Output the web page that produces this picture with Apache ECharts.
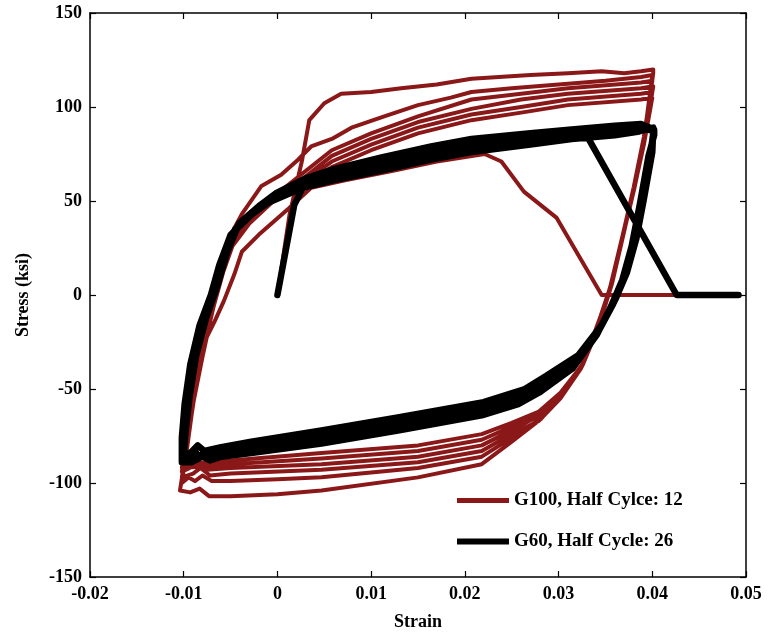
<!DOCTYPE html>
<html>
<head>
<meta charset="utf-8">
<script src="https://cdn.jsdelivr.net/npm/echarts@6/dist/echarts.min.js"></script>
<style>html,body{margin:0;padding:0;background:#fff}#c{width:768px;height:636px}</style>
</head>
<body>
<div id="c"></div>
<script>
// Axis ticks
const xTicks = [-0.02, -0.01, 0, 0.01, 0.02, 0.03, 0.04, 0.05];
const yTicks = [-150, -100, -50, 0, 50, 100, 150];
const seriesNames = ['G100, Half Cylce: 12', 'G60, Half Cycle: 26'];

// ---- G100 (red) half cycles: [strain, stress ksi]
const g100_U0 = [[0,0],[0.0013,43],[0.0026,71],[0.0034,93],[0.005,102],[0.0068,107],[0.010,108],[0.0132,110],[0.017,112],[0.0207,115],[0.027,117],[0.031,118],[0.0346,119],[0.037,118],[0.0388,119],[0.0401,120]];
const g100_L1 = [[0.0401,118],[0.0393,88],[0.0382,60],[0.0371,36],[0.0357,6],[0.0347,-10],[0.0336,-25],[0.0326,-37],[0.0304,-53],[0.0281,-66],[0.025,-78],[0.0218,-90],[0.015,-97],[0.0047,-104],[0,-106],[-0.005,-107],[-0.0073,-107],[-0.0083,-103],[-0.0093,-105],[-0.0104,-104]];
const g100_U1 = [[-0.0104,-104],[-0.0098,-85],[-0.0093,-62],[-0.0083,-36],[-0.0072,-12],[-0.0062,10],[-0.0052,30],[-0.0038,43],[-0.0017,58],[0.0004,64],[0.0022,72],[0.0036,79],[0.0058,83],[0.0079,89],[0.0114,95],[0.015,101],[0.0185,105],[0.0207,108],[0.025,110],[0.030,112],[0.035,114],[0.0388,116],[0.0400,117]];
const g100_L2 = [[0.0400,116],[0.0392,86],[0.0381,59],[0.037,35],[0.0356,5],[0.0346,-11],[0.0335,-26],[0.0325,-38],[0.0303,-54],[0.028,-66],[0.025,-76],[0.0218,-86],[0.015,-92],[0.0047,-97],[0,-98],[-0.005,-99],[-0.007,-99],[-0.008,-96],[-0.0088,-99],[-0.0095,-97],[-0.0102,-100]];
const g100_U2 = [[-0.0102,-100],[-0.0096,-80],[-0.009,-58],[-0.008,-33],[-0.007,-10],[-0.006,10],[-0.005,26],[-0.0035,38],[-0.001,50],[0.002,62],[0.0058,77],[0.01,86],[0.015,95],[0.0207,104],[0.026,107],[0.031,110],[0.0388,113],[0.0400,114]];
const g100_L3 = [[0.0400,113],[0.0391,84],[0.038,57],[0.0369,33],[0.0355,4],[0.0345,-12],[0.0334,-27],[0.0324,-39],[0.0302,-55],[0.0279,-67],[0.025,-74],[0.0218,-83],[0.015,-89],[0.0047,-93],[-0.005,-95],[-0.0072,-96],[-0.0082,-92],[-0.009,-95],[-0.0102,-97]];
const g100_U3 = [[-0.0102,-97],[-0.0095,-75],[-0.0088,-52],[-0.0078,-27],[-0.0068,-6],[-0.0058,12],[-0.0048,26],[-0.003,38],[0,52],[0.003,63],[0.0058,74],[0.01,83],[0.015,92],[0.0207,99],[0.026,104],[0.031,107],[0.0388,110],[0.0401,111]];
const g100_L4 = [[0.0401,110],[0.0392,83],[0.0381,57],[0.037,34],[0.0356,5],[0.0346,-10],[0.0335,-25],[0.0325,-37],[0.0303,-52],[0.028,-64],[0.025,-72],[0.0218,-80],[0.015,-86],[0.0047,-90],[-0.005,-92],[-0.0075,-93],[-0.0085,-90],[-0.0102,-94]];
const g100_U4 = [[-0.0102,-94],[-0.0096,-74],[-0.0089,-50],[-0.0079,-25],[-0.0069,-4],[-0.0059,13],[-0.0049,27],[-0.0032,38],[-0.0005,50],[0.003,61],[0.0058,71],[0.01,80],[0.015,89],[0.0207,96],[0.026,100],[0.031,104],[0.0388,107],[0.0400,108]];
const g100_L5 = [[0.0400,107],[0.0391,82],[0.038,56],[0.0369,33],[0.0355,4],[0.0345,-11],[0.0334,-26],[0.0324,-38],[0.0302,-53],[0.0279,-64],[0.025,-70],[0.0218,-77],[0.015,-83],[0.0047,-87],[-0.005,-90],[-0.0102,-92]];
const g100_U5 = [[-0.0102,-92],[-0.0096,-72],[-0.0089,-49],[-0.0079,-24],[-0.0069,-3],[-0.0059,14],[-0.0049,28],[-0.0033,38],[-0.0008,49],[0.003,59],[0.0058,68],[0.01,77],[0.015,86],[0.0207,93],[0.026,97],[0.031,101],[0.0388,104],[0.0400,105]];
const g100_L6 = [[0.0400,104],[0.0391,80],[0.038,55],[0.0369,32],[0.0355,3],[0.0345,-12],[0.0334,-27],[0.0324,-38],[0.0302,-52],[0.0279,-62],[0.025,-68],[0.0218,-74],[0.015,-80],[0.0047,-84],[-0.005,-88],[-0.0102,-90]];
const g100_U6 = [[-0.0102,-90],[-0.0096,-72],[-0.0088,-48],[-0.0078,-25],[-0.0067,-14],[-0.0057,-3],[-0.0046,11],[-0.0038,23],[-0.002,32],[0.0012,46],[0.0036,57],[0.0072,61],[0.0122,66],[0.017,71],[0.0221,75],[0.0239,71],[0.0263,55],[0.0298,41],[0.0346,0],[0.0424,0]];

// ---- G60 (black) half cycles
const g60_U0 = [[0,0],[0.0018,48],[0.0029,59],[0.006,64],[0.011,70],[0.0164,76],[0.0207,80],[0.027,84],[0.0314,86],[0.036,88],[0.0388,89],[0.0401,88]];
const g60_L1 = [[0.0401,86],[0.0398,75],[0.0389,50],[0.0381,28],[0.0371,10],[0.0359,-4],[0.0344,-18],[0.0318,-35],[0.0283,-47],[0.026,-54],[0.0218,-60],[0.013,-68],[0.0047,-75],[-0.0028,-81],[-0.0055,-83],[-0.0068,-86],[-0.0075,-83],[-0.0084,-86],[-0.0088,-83],[-0.0095,-87],[-0.0101,-87]];
const g60_U1 = [[-0.0101,-86],[-0.0100,-74],[-0.0096,-56],[-0.009,-35],[-0.0079,-14],[-0.0067,2],[-0.0058,19],[-0.0045,35],[-0.0022,46],[-0.0006,52],[0.0029,60],[0.006,64],[0.011,69],[0.0164,75],[0.0207,79],[0.027,83],[0.0314,85],[0.036,87],[0.0388,89],[0.0402,87]];
const g60_L2 = [[0.0402,85],[0.0396,74],[0.0387,49],[0.0378,26],[0.0368,8],[0.0356,-6],[0.0341,-21],[0.0315,-39],[0.0279,-52],[0.0257,-58],[0.0218,-64],[0.013,-72],[0.0047,-79],[-0.0028,-84],[-0.006,-86],[-0.0072,-88],[-0.008,-86],[-0.0092,-89],[-0.0102,-89]];
const g60_U2 = [[-0.0102,-88],[-0.0102,-76],[-0.0099,-58],[-0.0093,-37],[-0.0083,-16],[-0.0071,0],[-0.0062,16],[-0.005,32],[-0.0027,43],[-0.001,49],[0.0027,57],[0.006,61],[0.011,66],[0.0164,72],[0.0207,76],[0.027,80],[0.0314,83],[0.036,85],[0.0386,87],[0.0401,89]];
const g60_L3 = [[0.0401,87],[0.04,76],[0.0391,51],[0.0383,30],[0.0373,12],[0.0361,-2],[0.0346,-16],[0.0321,-32],[0.0287,-43],[0.0264,-50],[0.022,-57],[0.013,-65],[0.0047,-72],[-0.0028,-78],[-0.006,-81],[-0.0078,-83],[-0.0085,-80],[-0.0093,-84],[-0.0100,-85]];
const g60_U3 = [[-0.0100,-84],[-0.0098,-73],[-0.0094,-55],[-0.0087,-33],[-0.0076,-12],[-0.0064,5],[-0.0054,22],[-0.0041,38],[-0.0018,48],[-0.0002,54],[0.003,62],[0.006,67],[0.011,73],[0.0164,79],[0.0207,83],[0.027,86],[0.0314,88],[0.036,90],[0.0388,91],[0.0402,88]];
const g60_L4 = [[0.0402,86],[0.0397,75],[0.0388,50],[0.038,28],[0.037,9],[0.0358,-5],[0.0343,-19],[0.0317,-36],[0.0282,-48],[0.026,-55],[0.0218,-61],[0.013,-69],[0.0047,-76],[-0.0028,-82],[-0.0062,-84],[-0.008,-86],[-0.0097,-88],[-0.0101,-87]];
const g60_U4 = [[-0.0101,-86],[-0.01,-75],[-0.0097,-57],[-0.0091,-36],[-0.008,-15],[-0.0068,1],[-0.0058,19],[-0.0046,34],[-0.0022,46],[-0.0006,52],[0.0029,60],[0.006,64],[0.011,69],[0.0164,75],[0.0207,79],[0.027,82],[0.0331,84],[0.0426,0],[0.0492,0]];

const g100Data = [].concat(g100_U0, g100_L1, g100_U1, g100_L2, g100_U2, g100_L3, g100_U3, g100_L4, g100_U4, g100_L5, g100_U5, g100_L6, g100_U6);
const g60Data = [].concat(g60_U0, g60_L1, g60_U1, g60_L2, g60_U2, g60_L3, g60_U3, g60_L4, g60_U4);

const FONT = 'Liberation Serif';
const chart = echarts.init(document.getElementById('c'), null, {renderer: 'canvas'});
const axisLine = {show: true, onZero: false, lineStyle: {color: '#000', width: 1.5}};
const tickStyle = {show: true, inside: true, length: 6, lineStyle: {color: '#000', width: 1.2}};
const fmtX = v => { const r = parseFloat(Number(v).toFixed(2)); return r === 0 ? '0' : String(r); };
chart.setOption({
  animation: false,
  backgroundColor: '#fff',
  grid: {left: 90, right: 22, top: 13, bottom: 59, containLabel: false},
  xAxis: [{
    type: 'value', position: 'bottom', min: xTicks[0], max: xTicks[xTicks.length - 1], interval: 0.01,
    axisLine: axisLine, axisTick: tickStyle, splitLine: {show: false},
    axisLabel: {formatter: fmtX, color: '#000', fontFamily: FONT, fontWeight: 'bold', fontSize: 18, margin: 8},
    name: 'Strain', nameLocation: 'middle', nameGap: 36,
    nameTextStyle: {color: '#000', fontFamily: FONT, fontWeight: 'bold', fontSize: 18}
  }, {
    type: 'value', position: 'top', min: xTicks[0], max: xTicks[xTicks.length - 1], interval: 0.01,
    axisLine: axisLine, axisTick: tickStyle, axisLabel: {show: false}, splitLine: {show: false}
  }],
  yAxis: [{
    type: 'value', position: 'left', min: yTicks[0], max: yTicks[yTicks.length - 1], interval: 50,
    axisLine: axisLine, axisTick: tickStyle, splitLine: {show: false},
    axisLabel: {color: '#000', fontFamily: FONT, fontWeight: 'bold', fontSize: 18, margin: 8},
    name: 'Stress (ksi)', nameLocation: 'middle', nameGap: 58, nameRotate: 90,
    nameTextStyle: {color: '#000', fontFamily: FONT, fontWeight: 'bold', fontSize: 18}
  }, {
    type: 'value', position: 'right', min: yTicks[0], max: yTicks[yTicks.length - 1], interval: 50,
    axisLine: axisLine, axisTick: tickStyle, axisLabel: {show: false}, splitLine: {show: false}
  }],
  legend: {
    orient: 'vertical', left: 452, top: 486, itemGap: 22, itemWidth: 52, itemHeight: 14,
    textStyle: {color: '#000', fontFamily: FONT, fontWeight: 'bold', fontSize: 19, padding: [0, 0, 0, 0]},
    data: [
      {name: seriesNames[0], icon: 'path://M0,0 L52,0 L52,5 L0,5 Z'},
      {name: seriesNames[1], icon: 'path://M0,0 L52,0 L52,6 L0,6 Z'}
    ]
  },
  series: [{
    name: seriesNames[0], type: 'line', data: g100Data, symbol: 'none', showSymbol: false,
    lineStyle: {color: '#8b1818', width: 4, join: 'round', cap: 'round'}, itemStyle: {color: '#8b1818'}, z: 2
  }, {
    name: seriesNames[1], type: 'line', data: g60Data, symbol: 'none', showSymbol: false,
    lineStyle: {color: '#000', width: 6.5, join: 'round', cap: 'round'}, itemStyle: {color: '#000'}, z: 3
  }]
});
</script>
</body>
</html>
